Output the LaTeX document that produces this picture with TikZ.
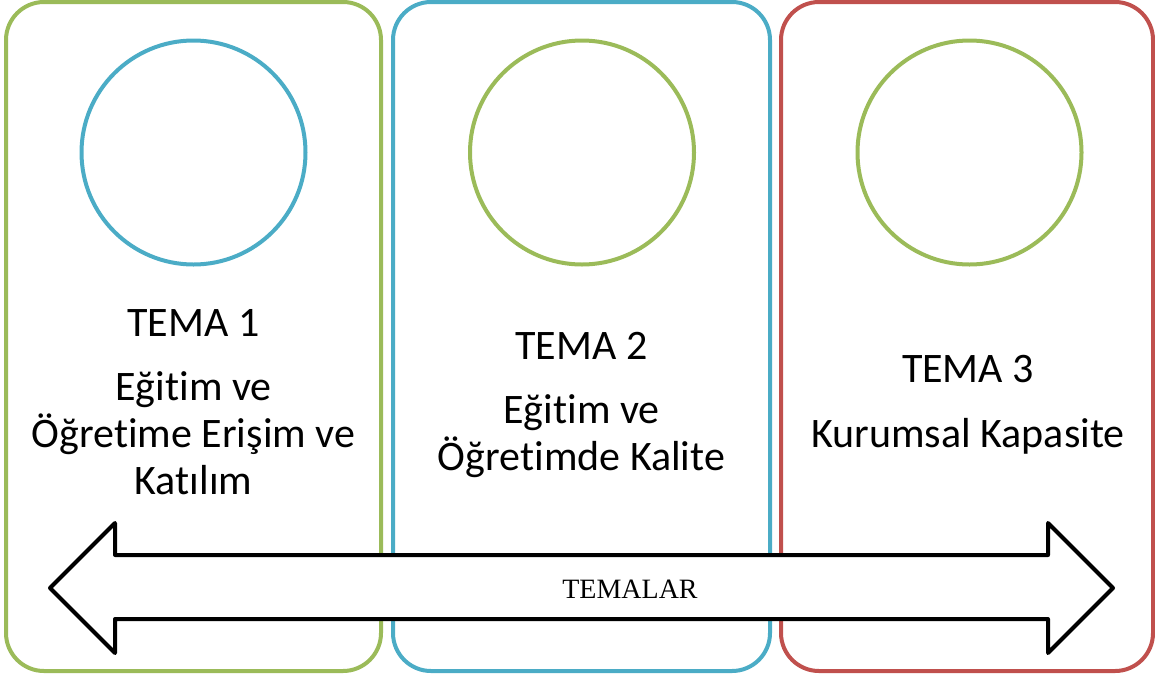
\documentclass[tikz,border=0pt]{standalone}
\usepackage{fontspec}
\setmainfont[Ligatures={NoCommon,NoContextual},RawFeature={-liga;-clig;-dlig}]{Carlito}
\newfontfamily\serifl{Liberation Serif}
\newcommand{\nolig}{\kern0pt }
\definecolor{tgreen}{HTML}{9BBB59}
\definecolor{tblue}{HTML}{4BACC6}
\definecolor{tred}{HTML}{C0504D}
\begin{document}
\begin{tikzpicture}[x=1pt,y=-1pt,
  panel/.style={line width=4pt, rounded corners=38pt},
  ring/.style={circle, line width=4pt, minimum size=224pt, inner sep=0pt, draw},
  big/.style={anchor=base, inner sep=0pt, font=\fontsize{42}{48}\selectfont},
  tag/.style={anchor=base, inner sep=0pt, font=\serifl\fontsize{28}{32}\selectfont}]
\useasboundingbox (0,0) rectangle (1155,678);
% panels
\draw[panel, tgreen] (6,2) rectangle (381,671);
\draw[panel, tblue] (393,2) rectangle (770,671);
\draw[panel, tred] (781,2) rectangle (1153,671);
% circles
\node[ring, tblue] (c1) at (193.5,152.5) {};
\node[ring, tgreen] (c2) at (582,152.5) {};
\node[ring, tgreen] (c3) at (969.5,152.5) {};
% double arrow
\draw[line width=4pt, line join=round, fill=white]
  (50,588) -- (115,523) -- (115,555) -- (1048,555) -- (1048,523) -- (1113,588)
  -- (1048,653) -- (1048,619) -- (115,619) -- (115,653) -- cycle;
\node[tag] (lab) at (630,598) {TEMALAR};
% texts
\node[big] (t1) at (193.5,336) {TEMA 1};
\node[big] (t1a) at (193.5,400) {Eğit\nolig im ve};
\node[big] (t1b) at (193.5,447) {Öğret\nolig ime Erişim ve};
\node[big] (t1c) at (193.5,494) {Katılım};
\node[big] (t2) at (581.5,359) {TEMA 2};
\node[big] (t2a) at (581.5,423) {Eğit\nolig im ve};
\node[big] (t2b) at (581.5,470) {Öğret\nolig imde Kalite};
\node[big] (t3) at (968,382) {TEMA 3};
\node[big] (t3a) at (968,447) {Kurumsal Kapasite};
\end{tikzpicture}
\end{document}
